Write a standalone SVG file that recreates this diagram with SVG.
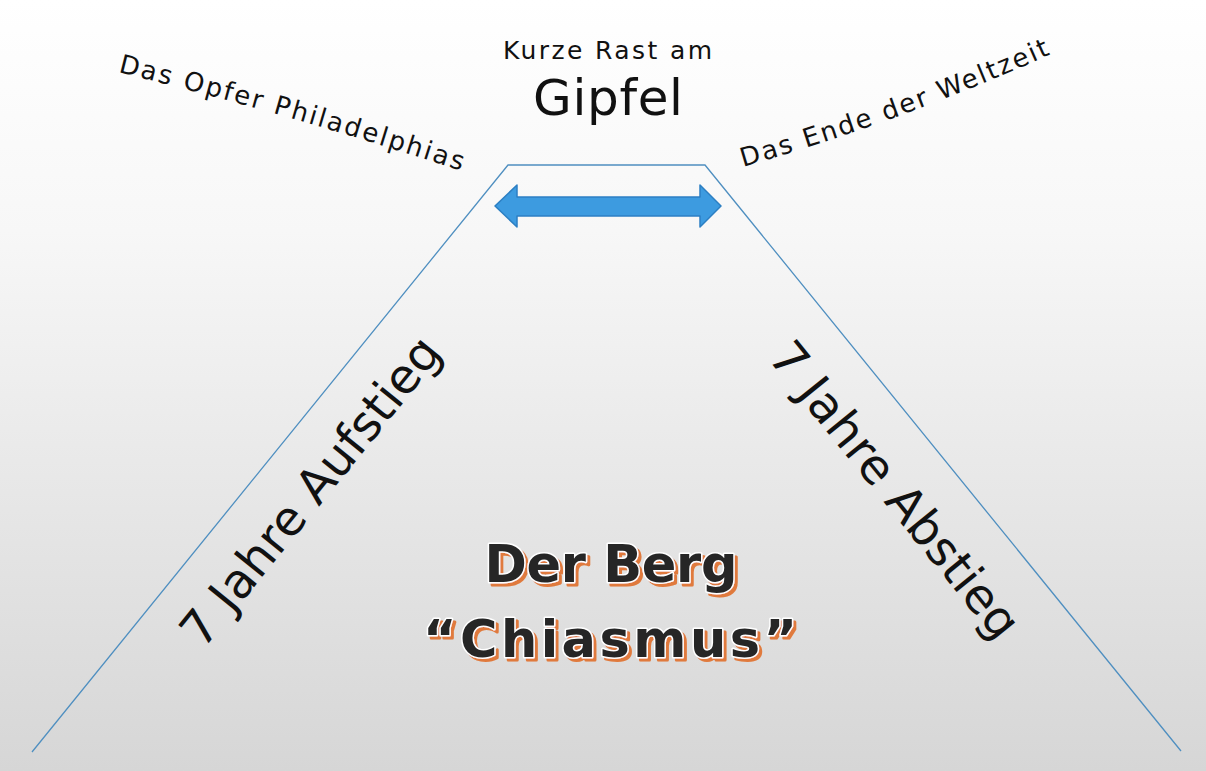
<svg xmlns="http://www.w3.org/2000/svg" width="1206" height="771" viewBox="0 0 1206 771">
<defs>
<linearGradient id="bg" x1="0" y1="0" x2="0" y2="1">
<stop offset="0" stop-color="#ffffff"/>
<stop offset="0.3" stop-color="#f7f7f7"/>
<stop offset="1" stop-color="#d6d6d6"/>
</linearGradient>
<filter id="orangeShadow" x="-10%" y="-20%" width="120%" height="150%">
<feDropShadow dx="3" dy="3" stdDeviation="0.3" flood-color="#e07a3c" flood-opacity="1"/>
</filter>
<path id="pL" d="M118,72 Q290,114 474,175"/>
<path id="pR" d="M743,167 Q905,120 1058,51"/>
</defs>
<style>
.lbl{font-family:"DejaVu Sans","Noto Sans",sans-serif;fill:#111;}
.title{font-family:"DejaVu Sans","Noto Sans",sans-serif;font-weight:bold;font-size:51px;text-anchor:middle;fill:#262626;stroke:#ffffff;stroke-width:3;paint-order:stroke;stroke-linejoin:round;filter:url(#orangeShadow);}
.edge{fill:none;stroke:#4f8fc0;stroke-width:1.3;}
</style>
<rect x="0" y="0" width="1206" height="771" fill="url(#bg)"/>
<g id="connectors">
<polyline class="edge" points="32,752 508,165 705,165 1181,751"/>
</g>
<g id="summit-arrow">
<path d="M495,206 L517,185 L517,197 L700,197 L700,185 L721,206 L700,227 L700,216 L517,216 L517,227 Z" fill="#3d9be0" stroke="#2c7fc3" stroke-width="1.5" stroke-linejoin="round"/>
</g>
<g id="summit-label">
<text class="lbl" x="607.5" y="59" font-size="25" text-anchor="middle" textLength="209" lengthAdjust="spacing">Kurze Rast am</text>
<text class="lbl" x="608" y="115" font-size="50" text-anchor="middle" textLength="150" lengthAdjust="spacing">Gipfel</text>
</g>
<g id="left-top-label">
<text class="lbl" font-size="26" letter-spacing="2.1"><textPath href="#pL">Das Opfer Philadelphias</textPath></text>
</g>
<g id="right-top-label">
<text class="lbl" font-size="26" letter-spacing="2"><textPath href="#pR">Das Ende der Weltzeit</textPath></text>
</g>
<g id="ascent">
<text class="lbl" font-size="48" transform="translate(203,650) rotate(-51)" x="0" y="0" textLength="382" lengthAdjust="spacing">7 Jahre Aufstieg</text>
</g>
<g id="descent">
<text class="lbl" font-size="48" transform="translate(767,358) rotate(51)" x="0" y="0" textLength="366" lengthAdjust="spacing">7 Jahre Abstieg</text>
</g>
<g id="mountain-title">
<text class="title" x="611" y="582" textLength="253" lengthAdjust="spacing">Der Berg</text>
<text class="title" x="610" y="657" textLength="374" lengthAdjust="spacing">“Chiasmus”</text>
</g>
</svg>
